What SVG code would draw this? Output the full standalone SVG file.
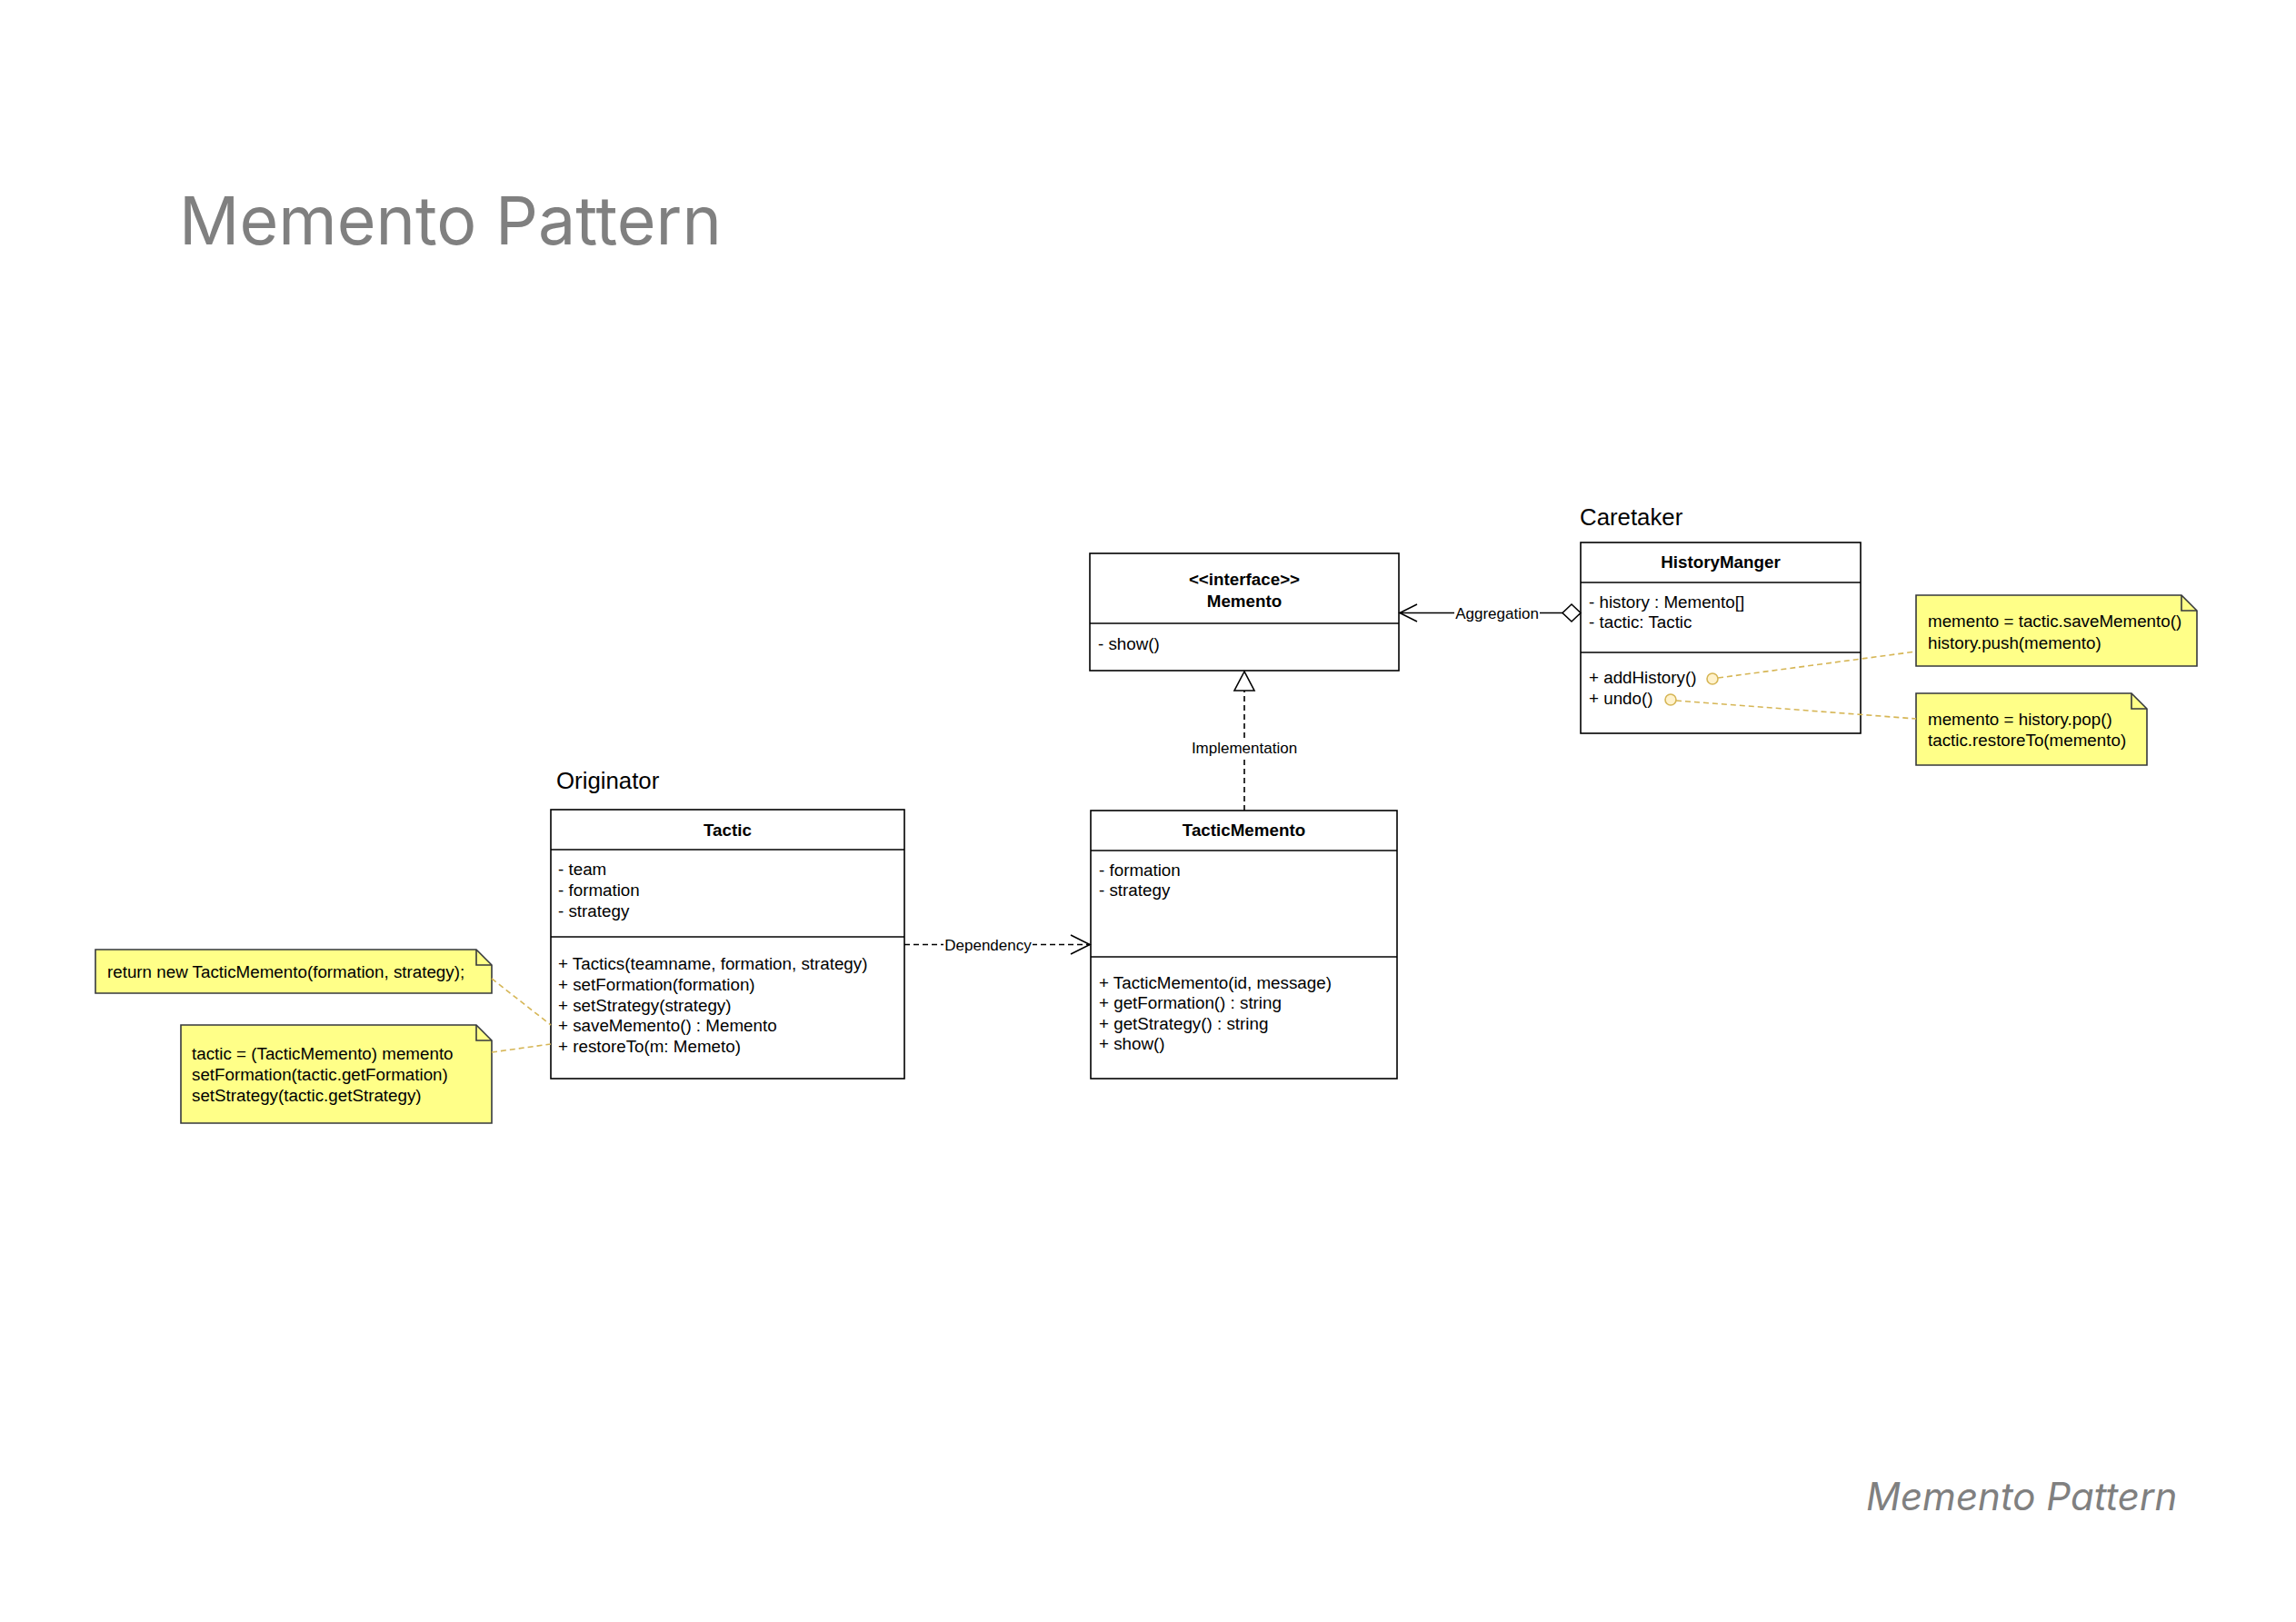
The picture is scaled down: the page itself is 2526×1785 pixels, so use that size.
<svg xmlns="http://www.w3.org/2000/svg" width="2526" height="1785" viewBox="0 0 2526 1785">
<style>
  .box{fill:#ffffff;stroke:#000000;stroke-width:1.6}
  .div{stroke:#000000;stroke-width:1.6;fill:none}
  .t{font-family:"Liberation Sans",Arial,sans-serif;font-size:18.8px;fill:#000000}
  .tb{font-family:"Liberation Sans",Arial,sans-serif;font-size:18.8px;font-weight:bold;fill:#000000;text-anchor:middle}
  .lbl{font-family:"Liberation Sans",Arial,sans-serif;font-size:17px;fill:#000000;text-anchor:middle}
  .stereo{font-family:"Liberation Sans",Arial,sans-serif;font-size:25.8px;fill:#000000}
  .note{fill:#ffff88;stroke:#36393d;stroke-width:1.6}
  .fold{fill:none;stroke:#36393d;stroke-width:1.6}
  .nt{font-family:"Liberation Sans",Arial,sans-serif;font-size:18.8px;fill:#000000}
  .edge{fill:none;stroke:#000000;stroke-width:1.6}
  .dash{stroke-dasharray:6 4}
  .gold{fill:none;stroke:#d6b656;stroke-width:1.6;stroke-dasharray:6 4}
  .anchor{fill:#fff2cc;stroke:#d6b656;stroke-width:1.6}
</style>
<rect x="0" y="0" width="2526" height="1785" fill="#ffffff"/>

<text x="197" y="269" font-family="Inter, 'Liberation Sans', sans-serif" font-size="73.5" fill="#808080">Memento Pattern</text>
<text x="2053" y="1662" font-family="Inter, 'Liberation Sans', sans-serif" font-size="42" font-style="italic" fill="#808080">Memento Pattern</text>

<text class="stereo" x="612" y="868">Originator</text>
<text class="stereo" x="1738" y="578">Caretaker</text>

<g id="node-memento">
  <rect class="box" x="1199" y="609" width="340" height="129"/>
  <line class="div" x1="1199" y1="686" x2="1539" y2="686"/>
  <text class="tb" x="1369" y="643.5">&lt;&lt;interface&gt;&gt;</text>
  <text class="tb" x="1369" y="667.5">Memento</text>
  <text class="t" x="1208" y="714.5">- show()</text>
</g>

<g id="node-historymanger">
  <rect class="box" x="1739" y="597" width="308" height="210"/>
  <line class="div" x1="1739" y1="641" x2="2047" y2="641"/>
  <line class="div" x1="1739" y1="718" x2="2047" y2="718"/>
  <text class="tb" x="1893" y="624.5">HistoryManger</text>
  <text class="t" x="1748" y="668.5">- history : Memento[]</text>
  <text class="t" x="1748" y="690.5">- tactic: Tactic</text>
  <text class="t" x="1748" y="752">+ addHistory()</text>
  <text class="t" x="1748" y="774.5">+ undo()</text>
</g>

<g id="node-tactic">
  <rect class="box" x="606" y="891" width="389" height="296"/>
  <line class="div" x1="606" y1="935" x2="995" y2="935"/>
  <line class="div" x1="606" y1="1031" x2="995" y2="1031"/>
  <text class="tb" x="800.5" y="919.5">Tactic</text>
  <text class="t" x="614" y="962.5">- team</text>
  <text class="t" x="614" y="985.5">- formation</text>
  <text class="t" x="614" y="1008.5">- strategy</text>
  <text class="t" x="614" y="1067">+ Tactics(teamname, formation, strategy)</text>
  <text class="t" x="614" y="1089.7">+ setFormation(formation)</text>
  <text class="t" x="614" y="1112.5">+ setStrategy(strategy)</text>
  <text class="t" x="614" y="1135.2">+ saveMemento() : Memento</text>
  <text class="t" x="614" y="1158">+ restoreTo(m: Memeto)</text>
</g>

<g id="node-tacticmemento">
  <rect class="box" x="1200" y="892" width="337" height="295"/>
  <line class="div" x1="1200" y1="936" x2="1537" y2="936"/>
  <line class="div" x1="1200" y1="1053" x2="1537" y2="1053"/>
  <text class="tb" x="1368.5" y="919.5">TacticMemento</text>
  <text class="t" x="1209" y="963.5">- formation</text>
  <text class="t" x="1209" y="985.5">- strategy</text>
  <text class="t" x="1209" y="1087.5">+ TacticMemento(id, message)</text>
  <text class="t" x="1209" y="1109.5">+ getFormation() : string</text>
  <text class="t" x="1209" y="1132.5">+ getStrategy() : string</text>
  <text class="t" x="1209" y="1154.5">+ show()</text>
</g>

<g id="note-savememento">
  <path class="note" d="M105,1045 L524,1045 L541,1062 L541,1093 L105,1093 Z"/>
  <path class="fold" d="M524,1045 L524,1062 L541,1062"/>
  <text class="nt" x="118" y="1075.5">return new TacticMemento(formation, strategy);</text>
</g>

<g id="note-restoreto">
  <path class="note" d="M199,1128 L524,1128 L541,1145 L541,1236 L199,1236 Z"/>
  <path class="fold" d="M524,1128 L524,1145 L541,1145"/>
  <text class="nt" x="211" y="1165.5">tactic = (TacticMemento) memento</text>
  <text class="nt" x="211" y="1188.5">setFormation(tactic.getFormation)</text>
  <text class="nt" x="211" y="1211.5">setStrategy(tactic.getStrategy)</text>
</g>

<g id="note-addhistory">
  <path class="note" d="M2108,655 L2400,655 L2417,672 L2417,733 L2108,733 Z"/>
  <path class="fold" d="M2400,655 L2400,672 L2417,672"/>
  <text class="nt" x="2121" y="689.5">memento = tactic.saveMemento()</text>
  <text class="nt" x="2121" y="713.5">history.push(memento)</text>
</g>

<g id="note-undo">
  <path class="note" d="M2108,763 L2345,763 L2362,780 L2362,842 L2108,842 Z"/>
  <path class="fold" d="M2345,763 L2345,780 L2362,780"/>
  <text class="nt" x="2121" y="797.5">memento = history.pop()</text>
  <text class="nt" x="2121" y="820.5">tactic.restoreTo(memento)</text>
</g>

<g id="connectors">
  <!-- Aggregation -->
  <line class="edge" x1="1719" y1="674.5" x2="1540" y2="674.5"/>
  <path class="edge" d="M1559,665 L1540,674.5 L1559,684"/>
  <polygon points="1719,674.5 1729,665 1739,674.5 1729,684" fill="#ffffff" stroke="#000000" stroke-width="1.6"/>
  <rect x="1600" y="663" width="94" height="22" fill="#ffffff"/>
  <text class="lbl" x="1647" y="680.5">Aggregation</text>

  <!-- Implementation -->
  <line class="edge dash" x1="1369" y1="892" x2="1369" y2="760"/>
  <polygon points="1369,739 1358,760 1380,760" fill="#ffffff" stroke="#000000" stroke-width="1.6"/>
  <rect x="1309" y="812" width="120" height="22" fill="#ffffff"/>
  <text class="lbl" x="1369" y="829">Implementation</text>

  <!-- Dependency -->
  <line class="edge dash" x1="995" y1="1039.5" x2="1199" y2="1039.5"/>
  <path class="edge" d="M1178,1029 L1199,1039.5 L1178,1050"/>
  <rect x="1038" y="1028" width="98" height="22" fill="#ffffff"/>
  <text class="lbl" x="1087" y="1045.5">Dependency</text>

  <!-- note links -->
  <line class="gold" x1="541" y1="1077" x2="606" y2="1128"/>
  <line class="gold" x1="541" y1="1158" x2="606" y2="1149"/>
  <line class="gold" x1="1890" y1="746" x2="2108" y2="717"/>
  <line class="gold" x1="1844" y1="771" x2="2108" y2="791"/>
  <circle class="anchor" cx="1884" cy="747" r="6"/>
  <circle class="anchor" cx="1838" cy="770" r="6"/>
</g>
</svg>
